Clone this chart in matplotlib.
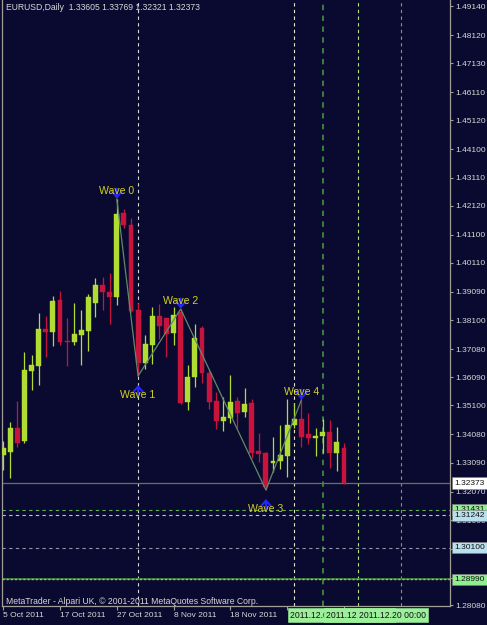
import matplotlib
matplotlib.use('Agg')
import matplotlib.pyplot as plt
from matplotlib.transforms import blended_transform_factory
import numpy as np

plt.rcParams['font.family'] = ['Liberation Sans', 'DejaVu Sans']

# ---------------- data ----------------
title_text = "EURUSD,Daily  1.33605 1.33769 1.32321 1.32373"
copyright_text = "MetaTrader - Alpari UK, \u00a9 2001-2011 MetaQuotes Software Corp."

opens = [1.33358, 1.33463, 1.34307, 1.33850, 1.36310, 1.36486, 1.37787, 1.37681, 1.38806, 1.37365,
         1.37330, 1.37576, 1.37716, 1.38701, 1.39333, 1.39087, 1.38911, 1.41864, 1.41442, 1.38455,
         1.36592, 1.37224, 1.38244, 1.38173, 1.37646, 1.38384, 1.35221, 1.36099, 1.37822, 1.36240,
         1.35256, 1.34553, 1.34658, 1.35256, 1.34869, 1.35186, 1.33498, 1.33428, 1.33076, 1.33147,
         1.33323, 1.34412, 1.34623, 1.34096, 1.33955, 1.34026, 1.34166, 1.33428, 1.33605]
highs = [1.33850, 1.34518, 1.35256, 1.36978, 1.36873, 1.38349, 1.38244, 1.38947, 1.39122, 1.38173,
         1.38701, 1.38455, 1.39017, 1.39579, 1.39614, 1.39755, 1.42356, 1.42005, 1.41688, 1.38701,
         1.37576, 1.38560, 1.38665, 1.38180, 1.38560, 1.38490, 1.36521, 1.37962, 1.37892, 1.36381,
         1.35572, 1.35396, 1.36170, 1.35396, 1.35713, 1.35326, 1.34131, 1.33463, 1.33990, 1.34412,
         1.35326, 1.35186, 1.35291, 1.34834, 1.34307, 1.34623, 1.34588, 1.34342, 1.33769]
lows = [1.32830, 1.32549, 1.33639, 1.33780, 1.35643, 1.35818, 1.36802, 1.37189, 1.37224, 1.36486,
        1.37224, 1.36521, 1.37013, 1.38208, 1.38455, 1.37962, 1.38630, 1.41337, 1.38384, 1.36135,
        1.36381, 1.36556, 1.37435, 1.36802, 1.37224, 1.35150, 1.34940, 1.35748, 1.35889, 1.34975,
        1.34272, 1.34201, 1.34483, 1.34307, 1.34693, 1.33252, 1.33112, 1.32127, 1.32760, 1.32866,
        1.32584, 1.34307, 1.33639, 1.33744, 1.33323, 1.33428, 1.32901, 1.32795, 1.32321]
closes = [1.33604, 1.34307, 1.33780, 1.36346, 1.36521, 1.37787, 1.37681, 1.38771, 1.37330, 1.37330,
          1.37611, 1.37752, 1.38911, 1.39333, 1.39087, 1.38911, 1.41829, 1.41442, 1.38419, 1.36592,
          1.37259, 1.38244, 1.37892, 1.37611, 1.38279, 1.35186, 1.36099, 1.37470, 1.36240, 1.35221,
          1.34553, 1.34693, 1.35221, 1.34834, 1.35150, 1.33428, 1.33393, 1.32233, 1.33147, 1.33358,
          1.34412, 1.34623, 1.33990, 1.33955, 1.34026, 1.34166, 1.33428, 1.33815, 1.32373]

date_tick_bars = [0, 8, 16, 24, 32, 40, 48]
date_tick_labels = ["5 Oct 2011", "17 Oct 2011", "27 Oct 2011", "8 Nov 2011", "18 Nov 2011", "", ""]

price_ticks = [1.49140, 1.48120, 1.47130, 1.46110, 1.45120, 1.44100, 1.43110, 1.42120, 1.41100,
               1.40110, 1.39090, 1.38100, 1.37080, 1.36090, 1.35100, 1.34080, 1.33090, 1.32070,
               1.31060, 1.30050, 1.29040, 1.28080]

wave_names = ["Wave 0", "Wave 1", "Wave 2", "Wave 3", "Wave 4"]
wave_bars = [16, 19, 25, 37, 42]
wave_prices = [1.42356, 1.36135, 1.38490, 1.32127, 1.35291]
wave_is_top = [True, False, True, False, True]

vline_bars = [19, 41, 45, 50, 56]
vline_colors = ['#d8d8d8', '#e8e8c8', '#3f8a3f', '#b4e878', '#62b04e']

hline_levels = [1.31431, 1.31242, 1.30100, 1.28990]
hline_colors = ['#5fae4f', '#b8c8d8', '#8898a8', '#8fd06a']
bid_price = 1.32373

price_box_values = [1.32373, 1.31431, 1.31242, 1.30100, 1.28990]
price_box_colors = ['#ffffff', '#90ee90', '#b8e0ee', '#b8e0ee', '#90ee90']

date_box_texts = ["2011.12.01 00:00", "2011.12.14 00:00", "2011.12.20 00:00"]

# ---------------- style ----------------
BG = '#0a0a30'
BULL = '#b0dc34'
BEAR = '#c8143c'
AXC = '#a09e96'
TXT = '#d8d8d8'
WAVE_TXT = '#d2d21e'
ARROW = '#2626ff'
FS = 6.0

W, H = 487, 625
fig = plt.figure(figsize=(W / 100, H / 100), dpi=100)
fig.patch.set_facecolor(BG)
ax = fig.add_axes([2 / W, 19 / H, 448 / W, 606 / H])
ax.set_facecolor(BG)

n = len(opens)
xs = np.arange(n)
o = np.array(opens); hh = np.array(highs); ll = np.array(lows); c = np.array(closes)
up = c >= o
cols = np.where(up, BULL, BEAR)

ax.vlines(xs, ll, hh, colors=cols, lw=0.9, zorder=3)
bottoms = np.minimum(o, c)
heights = np.maximum(np.abs(c - o), 0.00035)
ax.bar(xs, heights, bottom=bottoms, width=0.68, color=cols, edgecolor=cols, lw=0.3, zorder=4)

# vertical lines
for b, col in zip(vline_bars, vline_colors):
    lw = 1.3 if col == '#3f8a3f' else 0.8
    ax.axvline(b, color=col, lw=lw, ls=(0, (3, 3)), zorder=2)

# horizontal lines
ax.axhline(bid_price, color='#6e6e5c', lw=0.9, zorder=2)
for lev, col in zip(hline_levels, hline_colors):
    if lev == 1.28990:
        ax.axhline(lev, color='#3c7a34', lw=1.4, zorder=2)
        ax.axhline(lev, color=col, lw=1.0, ls=(0, (1.5, 1.5)), zorder=2)
    else:
        ax.axhline(lev, color=col, lw=0.8, ls=(0, (3, 3)), zorder=2)

# wave lines
ax.plot(wave_bars, wave_prices, color='#5f8a6a', lw=0.9, zorder=5)
astyle = '->,head_width=0.38,head_length=0.42'
for name, b, p, top in zip(wave_names, wave_bars, wave_prices, wave_is_top):
    if top:
        ax.annotate('', xy=(b, p), xytext=(0, 7.5), textcoords='offset points',
                    arrowprops=dict(arrowstyle=astyle, color=ARROW, lw=1.5,
                                    shrinkA=0, shrinkB=0.3), zorder=6)
        ax.annotate(name, xy=(b, p), xytext=(0, 5.5), textcoords='offset points',
                    ha='center', va='center', color=WAVE_TXT, fontsize=7.6, zorder=7)
    else:
        ax.annotate('', xy=(b, p), xytext=(0, -14), textcoords='offset points',
                    arrowprops=dict(arrowstyle=astyle, color=ARROW, lw=1.5,
                                    shrinkA=0, shrinkB=6.5), zorder=6)
        ax.annotate(name, xy=(b, p), xytext=(0, -13.5), textcoords='offset points',
                    ha='center', va='center', color=WAVE_TXT, fontsize=7.6, zorder=7)

# axes limits (1 bar = 7.1 px)
ax.set_xlim((2 - 3.2) / 7.1, (450 - 3.2) / 7.1)
ax.set_ylim(1.49351 - 0.0003515 * 606, 1.49351)

# spines
for s in ['left', 'bottom', 'right']:
    ax.spines[s].set_color(AXC)
    ax.spines[s].set_linewidth(0.9)
ax.spines['top'].set_visible(False)

ax.yaxis.tick_right()
ax.set_yticks(price_ticks)
ax.set_yticklabels([f"{p:.5f}" for p in price_ticks])
ax.tick_params(axis='y', colors=AXC, labelcolor=TXT, length=2.5, width=0.8, pad=1.2, labelsize=FS)

ax.set_xticks(date_tick_bars)
ax.set_xticklabels(date_tick_labels, ha='left')
ax.tick_params(axis='x', colors=AXC, labelcolor=TXT, length=3, width=0.8, pad=1.5, labelsize=FS)

# title and copyright
ax.text(4 / 448, 1 - 8 / 606, title_text, transform=ax.transAxes, color=TXT,
        fontsize=FS + 0.2, ha='left', va='center', zorder=8)
ax.text(4 / 448, 4 / 606, copyright_text, transform=ax.transAxes, color=TXT,
        fontsize=FS + 0.2, ha='left', va='center', zorder=8)

# price boxes on right axis
tr = blended_transform_factory(ax.transAxes, ax.transData)
for val, col in zip(price_box_values, price_box_colors):
    ax.text(1 + 4.5 / 448, val, f"{val:.5f}", transform=tr, ha='left', va='center',
            fontsize=FS, color='#101010', clip_on=False, zorder=20,
            bbox=dict(boxstyle='square,pad=0.25', fc=col, ec='#808080', lw=0.4))

# date boxes under the x axis
date_box_left_px = [290, 326, 359]
trx = blended_transform_factory(ax.transData, ax.transAxes)
for k, (txt, px) in enumerate(zip(date_box_texts, date_box_left_px)):
    ax.text((px - 3.2) / 7.1, -9 / 606, txt, transform=trx, ha='left', va='center',
            fontsize=FS + 0.2, color='#101010', clip_on=False, zorder=20 + k,
            bbox=dict(boxstyle='square,pad=0.25', fc='#9cf09a', ec='#9cf09a', lw=0.4))

fig.savefig('out.png', dpi=100, facecolor=BG)
